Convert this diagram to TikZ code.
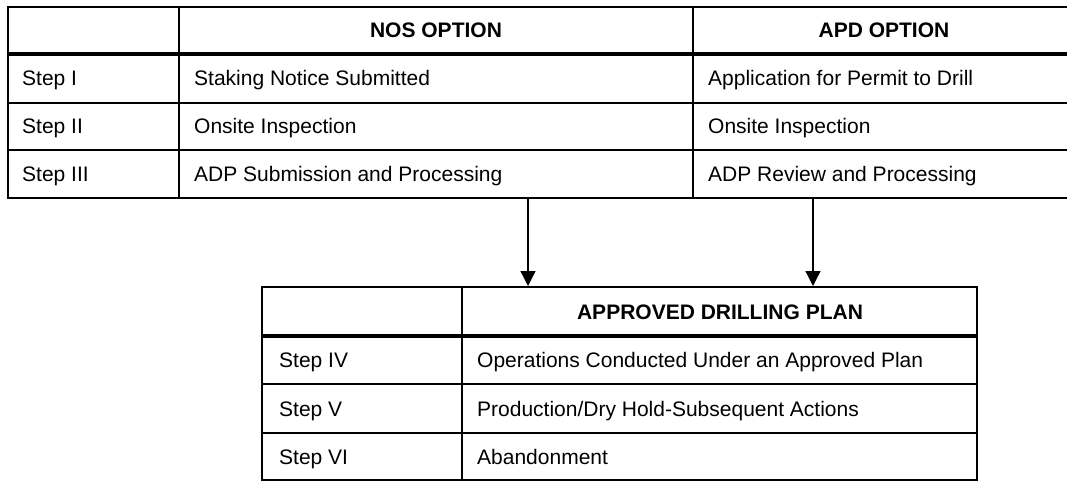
\documentclass[tikz,border=0pt]{standalone}
\usepackage{fontspec}
\setmainfont{Liberation Sans}
\usetikzlibrary{arrows.meta}
\tikzset{
  thinrule/.style={line width=2pt, line cap=rect},
  thickrule/.style={line width=4pt},
  celltext/.style={anchor=base west, inner sep=0pt, font=\fontsize{21}{25}\selectfont},
  headtext/.style={anchor=base, inner sep=0pt, font=\fontsize{21}{25}\selectfont\bfseries},
  flow/.style={line width=1.3pt, -{Triangle[width=15pt,length=15pt]}}
}
\begin{document}
\begin{tikzpicture}[x=1pt,y=-1pt]
\useasboundingbox (0,0) rectangle (1067,481);
% top table
\draw[thinrule, line cap=butt] (1067,7) -- (8,7) -- (8,198) -- (1067,198);
\draw[thinrule, line cap=butt] (8,103) -- (1067,103);
\draw[thinrule, line cap=butt] (8,150) -- (1067,150);
\draw[thickrule] (7,54) -- (1067,54);
\draw[thinrule, line cap=butt] (179,7) -- (179,198);
\draw[thinrule, line cap=butt] (693,7) -- (693,198);
\node[headtext] (nosh) at (436,38) {NOS OPTION};
\node[headtext] (apdh) at (884,38) {APD OPTION};
\node[celltext] (s1) at (22,86) {Step I};
\node[celltext] (s2) at (22,134) {Step II};
\node[celltext] (s3) at (22,181.5) {Step III};
\node[celltext] (n1) at (194,86) {Staking Notice Submitted};
\node[celltext] (n2) at (194,134) {Onsite Inspection};
\node[celltext] (n3) at (194,181.5) {ADP Submission and Processing};
\node[celltext] (a1) at (708,86) {Application for Permit to Drill};
\node[celltext] (a2) at (708,134) {Onsite Inspection};
\node[celltext] (a3) at (708,181.5) {ADP Review and Processing};
% bottom table
\draw[thinrule] (262,287) rectangle (977,480);
\draw[thinrule, line cap=butt] (262,384) -- (977,384);
\draw[thinrule, line cap=butt] (262,433) -- (977,433);
\draw[thickrule] (262,336) -- (977,336);
\draw[thinrule, line cap=butt] (462,287) -- (462,480);
\node[headtext] (adph) at (720,319) {APPROVED DRILLING PLAN};
\node[celltext] (s4) at (279,367.5) {Step IV};
\node[celltext] (s5) at (279,416) {Step V};
\node[celltext] (s6) at (279,464) {Step VI};
\node[celltext] (b4) at (477,367.5) {Operations Conducted Under an Approved Plan};
\node[celltext] (b5) at (477,416) {Production/Dry Hold-Subsequent Actions};
\node[celltext] (b6) at (477,464) {Abandonment};
% arrows
\coordinate (l0) at (528,199);
\coordinate (l1) at (528,286);
\coordinate (r0) at (813,199);
\coordinate (r1) at (813,286);
\draw[flow] (l0) -- (l1);
\draw[flow] (r0) -- (r1);
\end{tikzpicture}
\end{document}
